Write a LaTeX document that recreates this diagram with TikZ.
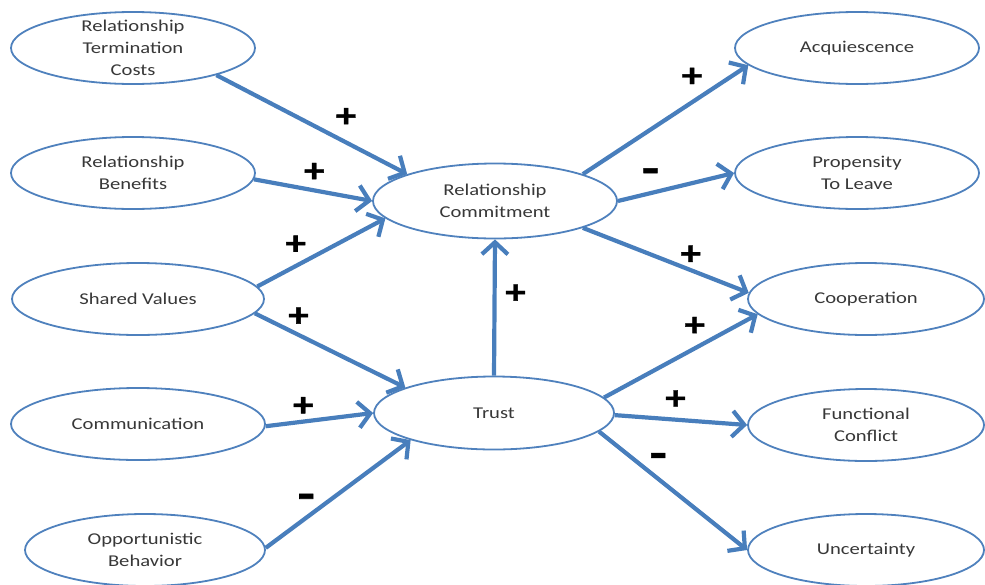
\documentclass[tikz,border=0pt]{standalone}
\usepackage{fontspec}
\setmainfont{Carlito}[FakeStretch=1.25]
\newfontfamily\signfont{Carlito}[FakeStretch=1.2, BoldFeatures={FakeBold=1.2}]
\usetikzlibrary{positioning,arrows.meta,shapes.geometric}

\definecolor{ringblue}{RGB}{79,129,189}
\definecolor{arrowblue}{RGB}{72,126,188}
\definecolor{textgray}{RGB}{56,56,56}

\begin{document}
\begin{tikzpicture}[x=1pt, y=-1pt,
    construct/.style = {ellipse, draw=ringblue, fill=white, line width=1.8pt,
                        minimum width=244pt, minimum height=72pt, inner sep=0pt},
    ctext/.style     = {align=center, text=textgray, font=\fontsize{16.5}{22}\selectfont},
    signlbl/.style   = {text=black, font=\signfont\bfseries\fontsize{34}{34}\selectfont, inner sep=0pt},
    neglbl/.style    = {signlbl, font=\signfont\bfseries\fontsize{46}{46}\selectfont},
    conn/.style      = {color=arrowblue, line width=4.2pt,
                        -{Straight Barb[length=12pt,width=26pt]}}]
    \useasboundingbox (0,0) rectangle (985,584);

    % antecedents
    \node [construct, label={[ctext]center:Relationship\\Termination\\Costs}] (rtc) at (133,48) {};
    \node [construct, label={[ctext]center:Relationship\\Benefits}] (rb) at (133,173) {};
    \node [construct, minimum width=252pt, label={[ctext]center:Shared Values}] (sv) at (138,299) {};
    \node [construct, minimum width=254pt, label={[ctext]center:Communication}] (com) at (138,424) {};
    \node [construct, minimum width=240pt, label={[ctext]center:Opportunistic\\Behavior}] (ob) at (145,550) {};

    % mediators
    \node [construct, minimum height=75pt, label={[ctext]center:Relationship\\Commitment}] (rc) at (495,201) {};
    \node [construct, minimum width=240pt, minimum height=73pt, label={[ctext]center:Trust}] (tr) at (494,413) {};

    % outcomes
    \node [construct, label={[ctext]center:Acquiescence}] (acq) at (857,48) {};
    \node [construct, label={[ctext]center:Propensity\\To Leave}] (ptl) at (857,173) {};
    \node [construct, minimum width=236pt, label={[ctext]center:Cooperation}] (coop) at (866,299) {};
    \node [construct, minimum width=236pt, label={[ctext]center:Functional\\Conflict}] (fc) at (866,425) {};
    \node [construct, minimum width=236pt, label={[ctext]center:Uncertainty}] (unc) at (866,550) {};

    \path[conn]
    (rtc.-18) edge node [signlbl, pos=0.68, yshift=25pt] {+} (rc.163)
    (rb.-3)   edge node [signlbl, pos=0.51, yshift=18pt] {+} (rc.180)
    (sv.6)    edge node [signlbl, pos=0.30, yshift=21pt] {+} (rc.189)
    (sv.-7)   edge node [signlbl, pos=0.29, yshift=18pt] {+} (tr.164)
    (com.-1)  edge node [signlbl, pos=0.35, yshift=15pt] {+} (tr.180)
    (ob.1)    edge node [neglbl, pos=0.28, yshift=16pt] {-} (tr.198)
    (tr.north) edge node [signlbl, pos=0.60, xshift=21pt] {+} (rc.south)
    (rc.17)   edge node [signlbl, pos=0.66, yshift=25pt] {+} (acq.189)
    (rc.0)    edge node [neglbl, pos=0.28, yshift=17pt] {-} (ptl.180)
    (rc.-17)  edge node [signlbl, pos=0.65, yshift=15pt] {+} (coop.177)
    (tr.8)    edge node [signlbl, pos=0.59, yshift=22pt] {+} (coop.188)
    (tr.-1)   edge node [signlbl, pos=0.46, yshift=20pt] {+} (fc.180)
    (tr.-10)  edge node [neglbl, pos=0.40, yshift=18pt] {-} (unc.180);
\end{tikzpicture}
\end{document}
